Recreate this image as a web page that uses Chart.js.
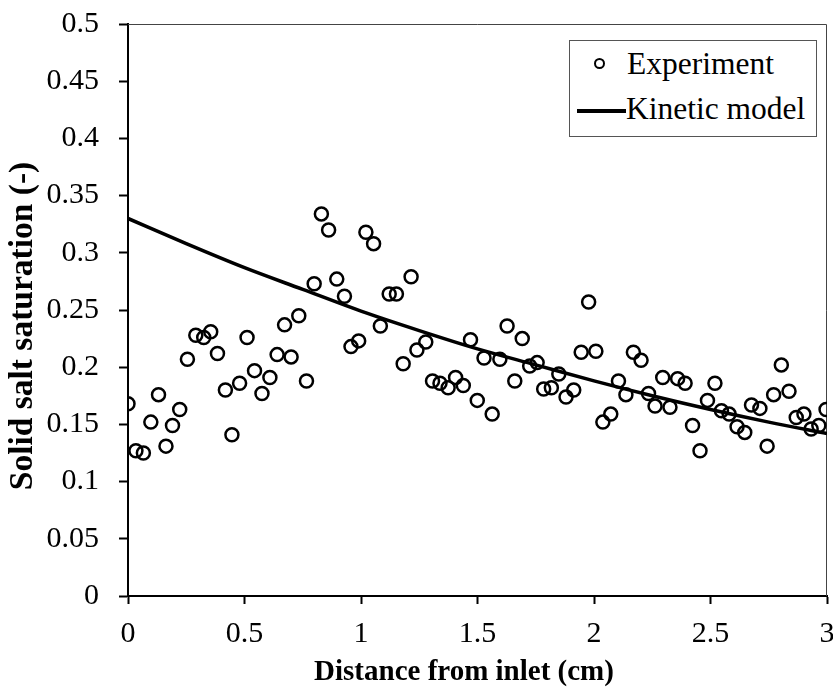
<!DOCTYPE html>
<html>
<head>
<meta charset="utf-8">
<script src="https://cdn.jsdelivr.net/npm/chart.js@4"></script>
<style>
    body { margin: 0; background: #fff; }
    #wrap { position: relative; width: 833px; height: 689px; }
    #legend {
        position: absolute; left: 569px; top: 40px; width: 248px; height: 97px;
        box-sizing: border-box; border: 1px solid #555; background: #fff;
        font-family: 'Liberation Serif', 'Times New Roman', serif; font-size: 31.5px; color: #000;
    }
    #legend .txt { position: absolute; line-height: 1; white-space: nowrap; }
    #legend .dot {
        position: absolute; width: 7px; height: 7px; border: 2px solid #000; border-radius: 50%;
    }
    #legend .ln { position: absolute; height: 4px; background: #000; }
</style>
</head>
<body>
<div id="wrap">
    <canvas id="chart" width="833" height="689"></canvas>
    <div id="legend"></div>
</div>
<script>
// Experiment points (distance cm, saturation)
const expX = [0.000, 0.034, 0.066, 0.098, 0.131, 0.163, 0.191, 0.222, 0.255, 0.291,
    0.325, 0.355, 0.384, 0.418, 0.446, 0.479, 0.511, 0.543, 0.575, 0.609,
    0.640, 0.672, 0.700, 0.733, 0.766, 0.799, 0.830, 0.861, 0.896, 0.929,
    0.957, 0.990, 1.021, 1.054, 1.083, 1.121, 1.152, 1.181, 1.215, 1.240,
    1.278, 1.307, 1.339, 1.374, 1.406, 1.439, 1.470, 1.499, 1.528, 1.563,
    1.596, 1.627, 1.660, 1.692, 1.724, 1.756, 1.784, 1.817, 1.849, 1.880,
    1.913, 1.945, 1.977, 2.008, 2.038, 2.072, 2.105, 2.137, 2.169, 2.202,
    2.234, 2.262, 2.295, 2.326, 2.359, 2.391, 2.423, 2.455, 2.487, 2.519,
    2.547, 2.580, 2.614, 2.647, 2.676, 2.712, 2.743, 2.771, 2.804, 2.837,
    2.868, 2.901, 2.932, 2.965, 2.996];
const expY = [0.168, 0.127, 0.125, 0.152, 0.176, 0.131, 0.149, 0.163, 0.207, 0.228,
    0.226, 0.231, 0.212, 0.180, 0.141, 0.186, 0.226, 0.197, 0.177, 0.191,
    0.211, 0.237, 0.209, 0.245, 0.188, 0.273, 0.334, 0.320, 0.277, 0.262,
    0.218, 0.223, 0.318, 0.308, 0.236, 0.264, 0.264, 0.203, 0.279, 0.215,
    0.222, 0.188, 0.186, 0.182, 0.191, 0.184, 0.224, 0.171, 0.208, 0.159,
    0.207, 0.236, 0.188, 0.225, 0.201, 0.204, 0.181, 0.182, 0.194, 0.174,
    0.180, 0.213, 0.257, 0.214, 0.152, 0.159, 0.188, 0.176, 0.213, 0.206,
    0.177, 0.166, 0.191, 0.165, 0.190, 0.186, 0.149, 0.127, 0.171, 0.186,
    0.162, 0.159, 0.148, 0.143, 0.167, 0.164, 0.131, 0.176, 0.202, 0.179,
    0.156, 0.159, 0.146, 0.149, 0.163];

// Kinetic model curve
const modelX = [0, 0.25, 0.5, 0.75, 1.0, 1.25, 1.5, 1.75, 2.0, 2.25, 2.5, 2.75, 3.0];
const modelY = [0.330, 0.308, 0.287, 0.268, 0.249, 0.232, 0.216, 0.202, 0.188, 0.175, 0.163, 0.152, 0.142];

const xTickValues = [0, 0.5, 1, 1.5, 2, 2.5, 3];
const xTickLabels = ['0', '0.5', '1', '1.5', '2', '2.5', '3'];
const yTickValues = [0, 0.05, 0.1, 0.15, 0.2, 0.25, 0.3, 0.35, 0.4, 0.45, 0.5];
const yTickLabels = ['0', '0.05', '0.1', '0.15', '0.2', '0.25', '0.3', '0.35', '0.4', '0.45', '0.5'];

const seriesNames = ['Experiment', 'Kinetic model'];
const xTitle = 'Distance from inlet (cm)';
const yTitle = 'Solid salt saturation (-)';

const serif = "'Liberation Serif', 'Times New Roman', serif";

// thin frame on top and right of the plot
const framePlugin = {
    id: 'frame',
    beforeDatasetsDraw(chart) {
        const { ctx, chartArea: a } = chart;
        ctx.save();
        ctx.strokeStyle = '#444';
        ctx.lineWidth = 1;
        ctx.beginPath();
        ctx.moveTo(a.left, a.top + 0.5);
        ctx.lineTo(a.right - 0.5, a.top + 0.5);
        ctx.lineTo(a.right - 0.5, a.bottom);
        ctx.stroke();
        ctx.restore();
    }
};

// axis titles, placed where the original has them
const axisTitlePlugin = {
    id: 'axisTitles',
    afterDraw(chart) {
        const ctx = chart.ctx;
        ctx.save();
        ctx.fillStyle = '#000';
        ctx.textAlign = 'center';
        ctx.textBaseline = 'middle';
        ctx.font = 'bold 29px ' + serif;
        ctx.fillText(xTitle, 464, 673);
        ctx.translate(23, 326);
        ctx.rotate(-Math.PI / 2);
        ctx.font = 'bold 33.5px ' + serif;
        ctx.fillText(yTitle, 0, 0);
        ctx.restore();
    }
};

function noScalePadding(scale) {
    scale.paddingTop = 0;
    scale.paddingBottom = 0;
    scale.paddingLeft = 0;
    scale.paddingRight = 0;
}

const ctx = document.getElementById('chart').getContext('2d');
new Chart(ctx, {
    data: {
        datasets: [
            {
                type: 'line',
                label: seriesNames[1],
                data: modelX.map((x, i) => ({ x: x, y: modelY[i] })),
                borderColor: '#000',
                borderWidth: 3.5,
                pointRadius: 0,
                cubicInterpolationMode: 'monotone',
                fill: false
            },
            {
                type: 'scatter',
                label: seriesNames[0],
                data: expX.map((x, i) => ({ x: x, y: expY[i] })),
                borderColor: '#000',
                backgroundColor: 'rgba(0,0,0,0)',
                borderWidth: 2.5,
                pointRadius: 6.5,
                pointHoverRadius: 6.5
            }
        ]
    },
    options: {
        responsive: false,
        devicePixelRatio: 1,
        animation: false,
        layout: { autoPadding: false, padding: { left: 0, top: 24, right: 6, bottom: 0 } },
        plugins: { legend: { display: false }, tooltip: { enabled: false } },
        scales: {
            x: {
                type: 'linear',
                min: 0, max: 3,
                afterFit: (scale) => { scale.height = 93; noScalePadding(scale); },
                afterBuildTicks: (scale) => { scale.ticks = xTickValues.map(v => ({ value: v })); },
                border: { color: '#000', width: 2 },
                grid: { drawOnChartArea: false, drawTicks: true, tickLength: 8, tickColor: '#000', tickWidth: 2 },
                ticks: {
                    color: '#000', padding: 12, maxRotation: 0,
                    font: { family: serif, size: 30 },
                    callback: (value, index) => xTickLabels[index]
                },
                title: { display: false }
            },
            y: {
                type: 'linear',
                min: 0, max: 0.5,
                afterFit: (scale) => { scale.width = 128; noScalePadding(scale); },
                afterBuildTicks: (scale) => { scale.ticks = yTickValues.map(v => ({ value: v })); },
                border: { color: '#000', width: 2 },
                grid: { drawOnChartArea: false, drawTicks: true, tickLength: 9, tickColor: '#000', tickWidth: 2 },
                ticks: {
                    color: '#000', padding: 20,
                    font: { family: serif, size: 30 },
                    callback: (value, index) => yTickLabels[index]
                },
                title: { display: false }
            }
        }
    },
    plugins: [framePlugin, axisTitlePlugin]
});

// legend box, drawn as html text
const legend = document.getElementById('legend');
legend.innerHTML = `
    <div class="dot" style="left:24px; top:17px;"></div>
    <div class="txt" style="left:57px; top:7px;">${seriesNames[0]}</div>
    <div class="ln" style="left:7px; top:68px; width:49px;"></div>
    <div class="txt" style="left:56px; top:52px;">${seriesNames[1]}</div>
`;
</script>
</body>
</html>
